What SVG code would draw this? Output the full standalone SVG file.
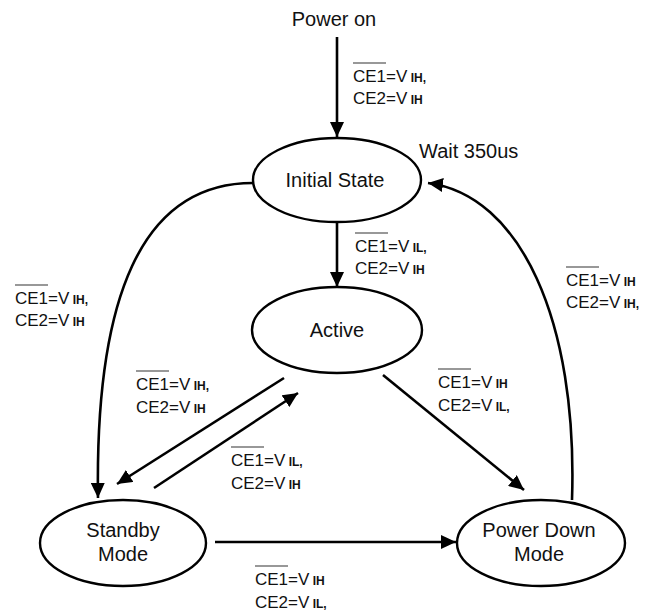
<svg xmlns="http://www.w3.org/2000/svg" width="649" height="616" viewBox="0 0 649 616">
<defs>
<marker id="ah" markerUnits="userSpaceOnUse" markerWidth="16" markerHeight="14" refX="15" refY="7" orient="auto">
<path d="M0,0 L15,7 L0,14 z" fill="#000"/>
</marker>
<style>
.n{fill:#fff;stroke:#000;stroke-width:2.4}
.t{font-family:"Liberation Sans",Arial,sans-serif;font-size:20px;fill:#111;text-anchor:middle}
.w{font-family:"Liberation Sans",Arial,sans-serif;font-size:20px;fill:#111}
.l{font-family:"Liberation Sans",Arial,sans-serif;font-size:17px;fill:#111}
.s{font-size:12px;font-weight:bold}
.c{fill:none;stroke:#000;stroke-width:2.6;marker-end:url(#ah)}
.o{stroke:#333;stroke-width:1.2}
</style>
</defs>
<rect width="649" height="616" fill="#fff"/>
<g id="connectors">
<line class="c" x1="337" y1="37" x2="337" y2="137"/>
<line class="c" x1="337" y1="222" x2="337" y2="287"/>
<path class="c" d="M253,183 C140,183 95,300 98,498"/>
<path class="c" d="M572,500 C578,320 520,195 428,183"/>
<line class="c" x1="284" y1="378" x2="117" y2="484"/>
<line class="c" x1="154" y1="488" x2="298" y2="393"/>
<line class="c" x1="383" y1="375" x2="524" y2="490"/>
<line class="c" x1="215" y1="542" x2="456" y2="542"/>
</g>
<g id="power-on"><text class="t" x="334" y="26">Power on</text></g>
<g id="wait"><text class="w" x="419" y="158">Wait 350us</text></g>
<g id="initial-state"><ellipse class="n" cx="337" cy="180" rx="84" ry="42"/><text class="t" x="335" y="187">Initial State</text></g>
<g id="active"><ellipse class="n" cx="337" cy="330" rx="85" ry="43"/><text class="t" x="337" y="337">Active</text></g>
<g id="standby"><ellipse class="n" cx="123" cy="543" rx="83" ry="43"/><text class="t" x="123" y="537">Standby</text><text class="t" x="123" y="561">Mode</text></g>
<g id="power-down"><ellipse class="n" cx="541" cy="543" rx="84" ry="43"/><text class="t" x="539" y="537">Power Down</text><text class="t" x="539" y="561">Mode</text></g>
<g id="labels">
<g><line class="o" x1="353" y1="63" x2="386" y2="63"/><text class="l" x="353" y="82">CE1=V<tspan class="s"> IH,</tspan></text><text class="l" x="353" y="104">CE2=V<tspan class="s"> IH</tspan></text></g>
<g><line class="o" x1="355" y1="233" x2="388" y2="233"/><text class="l" x="355" y="252">CE1=V<tspan class="s"> IL,</tspan></text><text class="l" x="355" y="274">CE2=V<tspan class="s"> IH</tspan></text></g>
<g><line class="o" x1="15" y1="285" x2="48" y2="285"/><text class="l" x="15" y="304">CE1=V<tspan class="s"> IH,</tspan></text><text class="l" x="15" y="326">CE2=V<tspan class="s"> IH</tspan></text></g>
<g><line class="o" x1="566" y1="267" x2="599" y2="267"/><text class="l" x="566" y="286">CE1=V<tspan class="s"> IH</tspan></text><text class="l" x="566" y="308">CE2=V<tspan class="s"> IH,</tspan></text></g>
<g><line class="o" x1="136" y1="371" x2="169" y2="371"/><text class="l" x="136" y="390">CE1=V<tspan class="s"> IH,</tspan></text><text class="l" x="136" y="413">CE2=V<tspan class="s"> IH</tspan></text></g>
<g><line class="o" x1="438" y1="369" x2="471" y2="369"/><text class="l" x="438" y="388">CE1=V<tspan class="s"> IH</tspan></text><text class="l" x="438" y="411">CE2=V<tspan class="s"> IL,</tspan></text></g>
<g><line class="o" x1="231" y1="447" x2="264" y2="447"/><text class="l" x="231" y="466">CE1=V<tspan class="s"> IL,</tspan></text><text class="l" x="231" y="489">CE2=V<tspan class="s"> IH</tspan></text></g>
<g><line class="o" x1="255" y1="566" x2="288" y2="566"/><text class="l" x="255" y="585">CE1=V<tspan class="s"> IH</tspan></text><text class="l" x="255" y="608">CE2=V<tspan class="s"> IL,</tspan></text></g>
</g>
</svg>
